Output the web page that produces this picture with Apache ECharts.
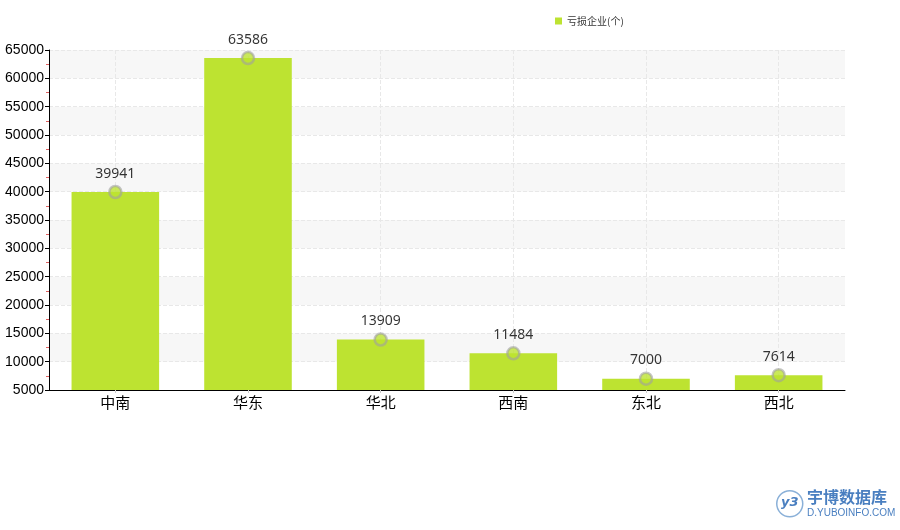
<!DOCTYPE html>
<html><head><meta charset="utf-8">
<script src="https://cdn.jsdelivr.net/npm/echarts@6/dist/echarts.min.js"></script>
<style>html,body{margin:0;padding:0;background:#fff}#c{width:900px;height:530px}</style>
</head><body><div id="c"></div>
<script>
const categories = ['中南','华东','华北','西南','东北','西北'];
const values = [39941, 63586, 13909, 11484, 7000, 7614];
const seriesName = '亏损企业(个)';
const yTicks = {min: 5000, max: 65000, interval: 5000};

const chart = echarts.init(document.getElementById('c'));
chart.setOption({
  animation: false,
  legend: {
    data: [seriesName], left: 550, top: 11, itemWidth: 7, itemHeight: 7, itemGap: 4,
    icon: 'rect',
    textStyle: {fontSize: 10, color: '#333', fontFamily: 'Noto Sans CJK SC'}
  },
  grid: {left: 49, right: 55, top: 50, bottom: 140, containLabel: false, outerBoundsMode: 'none'},
  xAxis: {
    type: 'category', data: categories,
    axisLine: {lineStyle: {color: '#000'}},
    axisTick: {show: true, alignWithLabel: true, length: 3, lineStyle: {color: '#ccc'}},
    axisLabel: {fontSize: 15, color: '#000', margin: 5, fontFamily: 'Noto Sans CJK SC'},
    splitLine: {show: true, alignWithLabel: true, lineStyle: {color: '#e8e8e8', type: 'dashed'}}
  },
  yAxis: {
    type: 'value', min: yTicks.min, max: yTicks.max, interval: yTicks.interval,
    axisLine: {show: true, lineStyle: {color: '#000'}},
    axisTick: {show: true, length: 4, lineStyle: {color: '#000'}},
    minorTick: {show: true, splitNumber: 2, length: 3, lineStyle: {color: '#e06060'}},
    axisLabel: {fontSize: 14, color: '#000', margin: 5, fontFamily: 'Liberation Sans', formatter: v => String(v)},
    splitLine: {show: true, lineStyle: {color: '#e8e8e8', type: 'dashed'}},
    splitArea: {show: true, areaStyle: {color: ['#ffffff', '#f7f7f7']}}
  },
  series: [
    {
      name: seriesName, type: 'bar', data: values, barWidth: '66%',
      itemStyle: {color: '#bde331'}
    },
    {
      name: 'marker', type: 'scatter', data: values, symbol: 'circle', symbolSize: 12,
      itemStyle: {color: '#bde331', borderColor: 'rgba(160,160,160,0.75)', borderWidth: 2.5},
      label: {show: true, position: 'top', distance: 4, fontSize: 14, color: '#000', fontFamily: 'Noto Sans'},
      z: 5
    }
  ],
  graphic: [
    {type: 'circle', left: 776, top: 490, shape: {r: 13}, style: {fill: '#fff', stroke: '#8ab0d8', lineWidth: 1.5}},
    {type: 'text', left: 781, top: 496, style: {text: 'y3', fill: '#4a7fc0', font: 'italic bold 13px DejaVu Sans'}},
    {type: 'text', left: 807, top: 489, style: {text: '宇博数据库', fill: '#4a7fc0', font: 'bold 16px "Noto Sans CJK SC"'}},
    {type: 'text', left: 807, top: 508, style: {text: 'D.YUBOINFO.COM', fill: '#4a7fc0', font: '10px "Liberation Sans"'}}
  ]
});
</script></body></html>
